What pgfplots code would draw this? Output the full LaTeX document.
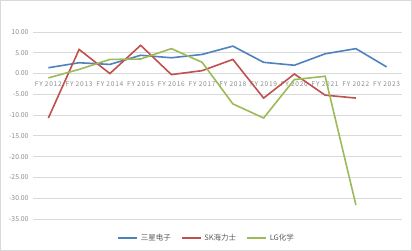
\documentclass[border=0pt]{standalone}
\usepackage{fontspec}
\setmainfont{Carlito}
\newfontfamily\cjk{Noto Sans CJK SC}
\newfontfamily\tickx[LetterSpace=11]{Noto Sans CJK SC}
\usepackage{pgfplots}
\pgfplotsset{compat=1.18}
\definecolor{sblue}{HTML}{4F81BD}
\definecolor{sred}{HTML}{C0504D}
\definecolor{sgreen}{HTML}{9BBB59}
\definecolor{gridc}{HTML}{D9D9D9}
\definecolor{tickc}{HTML}{8C8C8C}
\definecolor{textc}{HTML}{595959}
\definecolor{bordc}{HTML}{D9D9D9}
\begin{document}
\begin{tikzpicture}
\begin{axis}[
  at={(0,0)}, anchor=south west,
  scale only axis, width=369pt, height=187pt,
  xmin=-0.5, xmax=11.5, ymin=-35, ymax=10,
  axis x line*=middle, axis y line*=left,
  x axis line style={draw=gridc, line width=0.8pt},
  y axis line style={draw=none},
  ytick={-35,-30,...,10},
  xtick={0,...,11},
  xticklabels={FY 2012,FY 2013,FY 2014,FY 2015,FY 2016,FY 2017,FY 2018,FY 2019,FY 2020,FY 2021,FY 2022,FY 2023},
  major tick length=0,
  ymajorgrids, grid style={gridc, line width=0.8pt},
  tick label style={text=tickc},
  xticklabel style={font=\tickx\fontsize{6.6}{7}\selectfont, anchor=center, yshift=-11pt},
  yticklabel style={font=\cjk\fontsize{6.8}{7}\selectfont, xshift=-1pt, /pgf/number format/.cd, fixed, fixed zerofill, precision=2, assume math mode=true},
  legend style={at={(0.5,0)}, anchor=north, xshift=-11pt, yshift=-11pt, draw=none, fill=none,
    font=\cjk\fontsize{7.5}{8}\selectfont, text=textc, column sep=1pt,
    /tikz/every even column/.append style={column sep=8pt}},
  legend columns=3,
  legend image code/.code={\draw[#1] (0pt,0pt) -- (19pt,0pt);},
  every axis plot/.append style={line width=1.6pt, mark=none},
]
\addplot[sblue] coordinates {(0,1.4) (1,2.6) (2,2.2) (3,4.4) (4,3.8) (5,4.6) (6,6.6) (7,2.7) (8,2.0) (9,4.75) (10,6.0) (11,1.6)};
\addlegendentry{三星电子}
\addplot[sred] coordinates {(0,-10.7) (1,5.8) (2,0.0) (3,6.8) (4,-0.25) (5,0.7) (6,3.4) (7,-5.9) (8,-0.1) (9,-5.2) (10,-5.9)};
\addlegendentry{SK海力士}
\addplot[sgreen] coordinates {(0,-1.05) (1,1.0) (2,3.4) (3,3.5) (4,6.0) (5,2.7) (6,-7.3) (7,-10.7) (8,-1.45) (9,-0.65) (10,-31.6)};
\addlegendentry{LG化学}
\node[font=\cjk\fontsize{10.5}{11}\selectfont, text=textc] at (rel axis cs:0.469,1.091) {股东收益率（现金流角度）};
\end{axis}
\draw[bordc, line width=0.8pt] (-32.5pt,-31.5pt) rectangle (378.5pt,218.5pt);
\pgfresetboundingbox
\useasboundingbox (-33pt,-32pt) rectangle (379pt,219pt);
\end{tikzpicture}
\end{document}
